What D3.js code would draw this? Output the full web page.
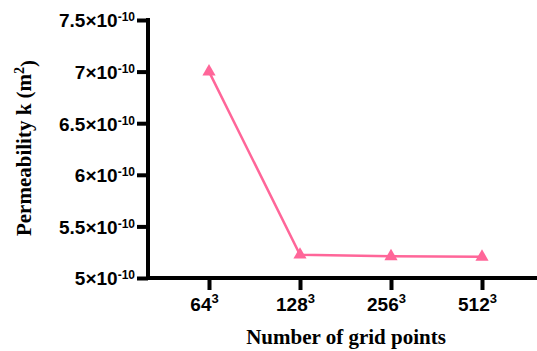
<!DOCTYPE html>
<html>
<head>
<meta charset="utf-8">
<script src="https://cdn.jsdelivr.net/npm/d3@7"></script>
<style>
body { margin: 0; background: #fff; }
</style>
</head>
<body>
<div id="chart"></div>
<script>
var width = 537;
var height = 351;

// data
var grids = ["64", "128", "256", "512"];
var permeability = [7.0e-10, 5.225e-10, 5.21e-10, 5.205e-10];
var yTicks = [5e-10, 5.5e-10, 6e-10, 6.5e-10, 7e-10, 7.5e-10];
var yTickMant = ["5", "5.5", "6", "6.5", "7", "7.5"];

var pink = "#ff6699";
var axisW = 4;
var tickLen = 11;

var svg = d3.select("#chart")
    .append("svg")
    .attr("width", width)
    .attr("height", height);

var x = d3.scalePoint()
    .domain(grids)
    .range([209, 482]);

var y = d3.scaleLinear()
    .domain([5e-10, 7.5e-10])
    .range([278, 20]);

var left = 148;

// y axis (thick strokes drawn as rects so they stay heavy)
var yAxis = svg.append("g")
    .attr("transform", "translate(" + left + ",0)")
    .call(d3.axisLeft(y).tickValues(yTicks).tickSize(0).tickSizeOuter(0).tickFormat(""));
yAxis.select(".domain").remove();
yAxis.append("rect")
    .attr("x", -axisW / 2)
    .attr("y", y.range()[1] - axisW / 2)
    .attr("width", axisW)
    .attr("height", y.range()[0] - y.range()[1] + axisW)
    .attr("fill", "#000");

yAxis.selectAll(".tick").each(function(d, i) {
    var g = d3.select(this);
    g.select("line").remove();
    g.append("rect")
        .attr("x", -tickLen)
        .attr("y", -axisW / 2)
        .attr("width", tickLen)
        .attr("height", axisW)
        .attr("fill", "#000");
    var t = g.append("text")
        .attr("x", -13)
        .attr("dy", "0.36em")
        .attr("text-anchor", "end")
        .attr("fill", "#000")
        .style("font-family", "Liberation Sans, Arial, sans-serif")
        .style("font-weight", "bold")
        .style("font-size", "19px");
    t.append("tspan").text(yTickMant[i] + "\u00d710");
    t.append("tspan").attr("dy", "-0.5em").style("font-size", "12px").text("-10");
});

// x axis
var xAxis = svg.append("g")
    .attr("transform", "translate(0," + y.range()[0] + ")")
    .call(d3.axisBottom(x).tickSize(0).tickSizeOuter(0).tickFormat(""));
xAxis.select(".domain").remove();
xAxis.append("rect")
    .attr("x", left - axisW / 2)
    .attr("y", -axisW / 2)
    .attr("width", width - left + axisW)
    .attr("height", axisW)
    .attr("fill", "#000");

xAxis.selectAll(".tick").each(function(d) {
    var g = d3.select(this);
    g.select("line").remove();
    g.append("rect")
        .attr("x", -axisW / 2)
        .attr("y", 0)
        .attr("width", axisW)
        .attr("height", tickLen + 1)
        .attr("fill", "#000");
    var t = g.append("text")
        .attr("x", -5)
        .attr("y", 33)
        .attr("text-anchor", "middle")
        .attr("fill", "#000")
        .style("font-family", "Liberation Sans, Arial, sans-serif")
        .style("font-weight", "bold")
        .style("font-size", "19px");
    t.append("tspan").text(d);
    t.append("tspan").attr("dy", "-0.6em").style("font-size", "13px").text("3");
});

// line + markers
var pts = grids.map(function(g, i) { return {g: g, v: permeability[i]}; });

var line = d3.line()
    .x(function(d) { return x(d.g); })
    .y(function(d) { return y(d.v); });

svg.append("path")
    .datum(pts)
    .attr("fill", "none")
    .attr("stroke", pink)
    .attr("stroke-width", 2.5)
    .attr("d", line);

svg.selectAll(".marker")
    .data(pts)
    .enter()
    .append("path")
    .attr("class", "marker")
    .attr("transform", function(d) { return "translate(" + x(d.g) + "," + y(d.v) + ")"; })
    .attr("d", d3.symbol().type(d3.symbolTriangle).size(75))
    .attr("fill", pink);

// titles
svg.append("text")
    .attr("transform", "translate(31,148) rotate(-90)")
    .attr("text-anchor", "middle")
    .style("font-family", "Liberation Serif, Times New Roman, serif")
    .style("font-weight", "bold")
    .style("font-size", "21px")
    .call(function(t) {
        t.append("tspan").text("Permeability k (m");
        t.append("tspan").attr("dy", "-0.5em").style("font-size", "14px").text("2");
        t.append("tspan").attr("dy", "0.5em").text(")");
    });

svg.append("text")
    .attr("x", 346)
    .attr("y", 344)
    .attr("text-anchor", "middle")
    .style("font-family", "Liberation Serif, Times New Roman, serif")
    .style("font-weight", "bold")
    .style("font-size", "21px")
    .text("Number of grid points");
</script>
</body>
</html>
